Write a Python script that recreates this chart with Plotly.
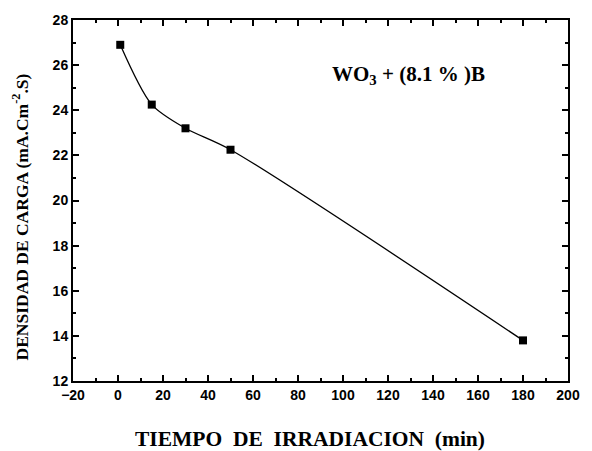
import plotly.graph_objects as go

# Charge density vs irradiation time
tiempo = [1, 15, 30, 50, 180]
densidad = [26.9, 24.25, 23.2, 22.25, 13.8]

serif = "Times New Roman, Liberation Serif, serif"
sans = "Arial, Liberation Sans, sans-serif"

fig = go.Figure()
fig.add_trace(go.Scatter(
    x=tiempo, y=densidad, mode="lines+markers",
    line=dict(color="black", width=1.3, shape="spline", smoothing=0.8),
    marker=dict(symbol="square", size=8, color="black"),
    showlegend=False,
))

axis_common = dict(
    showline=True, linecolor="black", linewidth=2, mirror="allticks",
    ticks="inside", ticklen=6, tickwidth=2, tickcolor="black",
    showgrid=False, zeroline=False,
    tickfont=dict(family=sans, size=14, color="black", weight="bold"),
)

fig.update_xaxes(range=[-20, 200], tickmode="linear", tick0=-20, dtick=20,
                 minor=dict(ticks="inside", ticklen=3, tickwidth=2,
                            tickcolor="black", dtick=10, tick0=-20,
                            showgrid=False),
                 **axis_common)
fig.update_yaxes(range=[12, 28], tickmode="linear", tick0=12, dtick=2,
                 minor=dict(ticks="inside", ticklen=3, tickwidth=2,
                            tickcolor="black", dtick=1, tick0=12,
                            showgrid=False),
                 **axis_common)

fig.add_annotation(
    text="<b>TIEMPO  DE  IRRADIACION  (min)</b>",
    xref="paper", yref="paper", x=0.5, y=-0.16, yanchor="middle",
    showarrow=False,
    font=dict(family=serif, size=21.5, color="black"),
    xshift=-11,
)
fig.add_annotation(
    text="<b>DENSIDAD DE CARGA (mA.Cm<sup>-2</sup>.S)</b>",
    xref="paper", yref="paper", x=0, y=0.5, textangle=-90,
    xanchor="center", yanchor="middle", xshift=-53, yshift=-17,
    showarrow=False,
    font=dict(family=serif, size=17.5, color="black"),
)
fig.add_annotation(
    text="<b>WO<sub>3</sub> + (8.1 % )B</b>",
    x=94, y=25.55, xanchor="left", yanchor="middle", showarrow=False,
    font=dict(family=serif, size=21, color="black"),
)

fig.update_layout(
    template="simple_white",
    width=592, height=451,
    margin=dict(l=73, r=14, t=20, b=70),
    paper_bgcolor="white", plot_bgcolor="white",
)

fig.write_html("out.html")
